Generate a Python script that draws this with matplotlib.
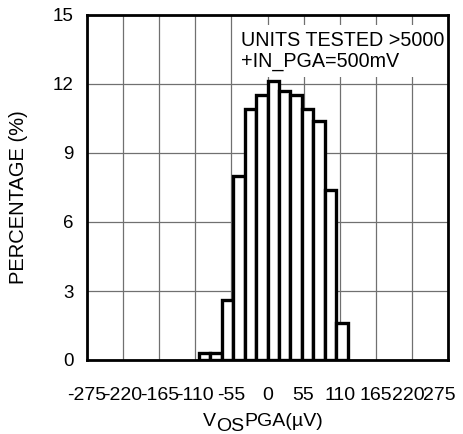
import matplotlib
matplotlib.use('Agg')
import matplotlib.pyplot as plt
from matplotlib.patches import Rectangle
from matplotlib.transforms import ScaledTranslation

plt.rcParams['font.family'] = ['Liberation Sans', 'DejaVu Sans']

# offset histogram, bins 17.5 uV wide
bin_left = [-105, -87.5, -70, -52.5, -35, -17.5, 0, 17.5, 35, 52.5, 70, 87.5, 105]
percent = [0.3, 0.3, 2.6, 8.0, 10.9, 11.5, 12.15, 11.7, 11.5, 10.9, 10.4, 7.4, 1.6]
bin_width = 17.5

x_ticks = [-275, -220, -165, -110, -55, 0, 55, 110, 165, 220, 275]
y_ticks = [0, 3, 6, 9, 12, 15]

fig = plt.figure(figsize=(4.63, 4.34), dpi=100)
ax = fig.add_axes([87 / 463, 1 - 360 / 434, 361 / 463, 345 / 434])

ax.set_xlim(-275, 275)
ax.set_ylim(0, 15)
ax.set_xticks(x_ticks)
ax.set_yticks(y_ticks)
ax.set_xticklabels([str(v) for v in x_ticks], fontsize=14)
ax.set_yticklabels([str(v) for v in y_ticks], fontsize=13.5)
ax.tick_params(axis='x', length=0, pad=19.5)
ax.tick_params(axis='y', length=0, pad=9.5)

# pull the last two labels in so they stay on the figure
xlabels = ax.get_xticklabels()
for lbl, dx in [(xlabels[-2], -4), (xlabels[-1], -9)]:
    lbl.set_transform(lbl.get_transform() + ScaledTranslation(dx / 100, 0, fig.dpi_scale_trans))

ax.grid(True, color='#707070', linewidth=0.9, zorder=0)
ax.set_axisbelow(True)

# label area in the upper right
ax.add_patch(Rectangle((-50, 12.3), 325, 14.57 - 12.3, facecolor='white',
                       edgecolor='none', zorder=1))
ax.text(-40.5, 13.65, 'UNITS TESTED >5000', fontsize=14.2, va='baseline', zorder=2)
ax.text(-40.5, 12.74, '+IN_PGA=500mV', fontsize=14.2, va='baseline', zorder=2)

ax.bar(bin_left, percent, width=bin_width, align='edge', facecolor='white',
       edgecolor='black', linewidth=2.4, zorder=3)

for sp in ax.spines.values():
    sp.set_linewidth(2.0)
    sp.set_zorder(5)

fig.text(18.5 / 463, 1 - 197 / 434, 'PERCENTAGE (%)', rotation=90, fontsize=14.5,
         ha='center', va='center')

# x label with the OS subscript at full size
t1 = fig.text(203 / 463, 1 - 426.5 / 434, 'V', fontsize=14, va='baseline')
t2 = ax.annotate('OS', xy=(1, -0.27), xycoords=t1, fontsize=14, va='bottom',
                 annotation_clip=False)
ax.annotate('PGA(\u00b5V)', xy=(1, 0.27), xycoords=t2, fontsize=14, va='bottom',
            annotation_clip=False)

fig.savefig('out.png', dpi=100)
